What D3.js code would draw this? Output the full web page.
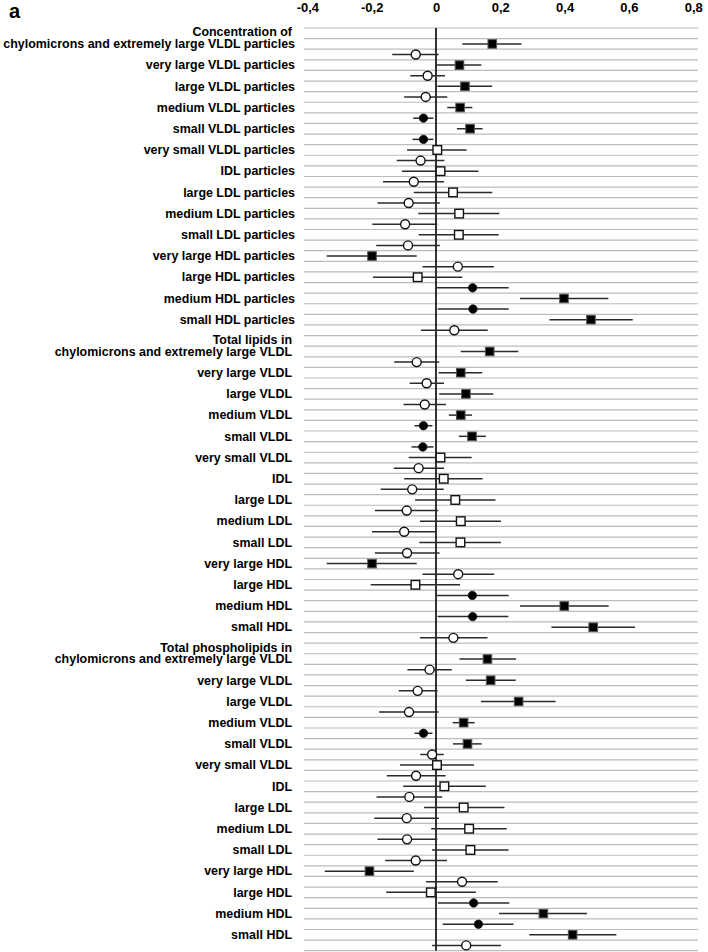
<!DOCTYPE html>
<html>
<head>
<meta charset="utf-8">
<script src="https://cdn.jsdelivr.net/npm/d3@7"></script>
<style>
  html, body { margin: 0; padding: 0; background: #fff; }
  svg { display: block; }
  .lbl { font-family: "Liberation Sans", Arial, sans-serif; font-weight: bold; fill: #000; }
  .tick text { font-family: "Liberation Sans", Arial, sans-serif; font-weight: bold; font-size: 13px; fill: #000; }
</style>
</head>
<body>
<svg id="chart" width="708" height="952"></svg>
<script>
// ---------- DATA ----------
const groupHeaders = ["Concentration of", "Total lipids in", "Total phospholipids in"];

const labelsGroup1 = ["chylomicrons and extremely large VLDL particles", "very large VLDL particles", "large VLDL particles",
  "medium VLDL particles", "small VLDL particles", "very small VLDL particles", "IDL particles", "large LDL particles",
  "medium LDL particles", "small LDL particles", "very large HDL particles", "large HDL particles",
  "medium HDL particles", "small HDL particles"];
const labelsGroup2 = ["chylomicrons and extremely large VLDL", "very large VLDL", "large VLDL", "medium VLDL", "small VLDL",
  "very small VLDL", "IDL", "large LDL", "medium LDL", "small LDL", "very large HDL", "large HDL", "medium HDL", "small HDL"];
const labelsGroup3 = labelsGroup2.slice();

const tickValues = [-0.4, -0.2, 0, 0.2, 0.4, 0.6, 0.8];

// square series (estimate, lower, upper, significant -> filled)
const squareEst = [
  0.175, 0.073, 0.090, 0.075, 0.106, 0.004, 0.014, 0.053, 0.072, 0.071, -0.199, -0.057, 0.398, 0.482,
  0.167, 0.077, 0.093, 0.077, 0.112, 0.014, 0.024, 0.060, 0.077, 0.076, -0.199, -0.064, 0.399, 0.489,
  0.160, 0.170, 0.257, 0.086, 0.098, 0.003, 0.026, 0.086, 0.103, 0.107, -0.207, -0.016, 0.334, 0.425];
const squareLo = [
  0.082, 0.002, 0.004, 0.035, 0.065, -0.090, -0.106, -0.069, -0.055, -0.054, -0.340, -0.196, 0.261, 0.353,
  0.077, 0.008, 0.010, 0.040, 0.071, -0.085, -0.099, -0.065, -0.050, -0.052, -0.340, -0.203, 0.261, 0.359,
  0.073, 0.093, 0.140, 0.052, 0.053, -0.112, -0.102, -0.037, -0.015, -0.012, -0.346, -0.155, 0.196, 0.290];
const squareHi = [
  0.266, 0.141, 0.175, 0.113, 0.145, 0.095, 0.132, 0.175, 0.197, 0.195, -0.060, 0.082, 0.536, 0.612,
  0.256, 0.144, 0.178, 0.112, 0.155, 0.111, 0.145, 0.185, 0.202, 0.202, -0.060, 0.075, 0.537, 0.619,
  0.249, 0.248, 0.372, 0.120, 0.142, 0.118, 0.155, 0.213, 0.220, 0.226, -0.069, 0.124, 0.470, 0.561];
const squareFilled = [
  1,1,1,1,1,0,0,0,0,0,1,0,1,1,
  1,1,1,1,1,0,0,0,0,0,1,0,1,1,
  1,1,1,1,1,0,0,0,0,0,1,0,1,1];

// circle series
const circleEst = [
  -0.063, -0.026, -0.032, -0.039, -0.039, -0.048, -0.069, -0.085, -0.096, -0.087, 0.068, 0.114, 0.115, 0.057,
  -0.060, -0.029, -0.035, -0.039, -0.041, -0.054, -0.074, -0.091, -0.099, -0.090, 0.069, 0.113, 0.114, 0.054,
  -0.020, -0.057, -0.084, -0.039, -0.012, -0.062, -0.083, -0.091, -0.090, -0.063, 0.081, 0.117, 0.132, 0.094];
const circleLo = [
  -0.136, -0.080, -0.099, -0.071, -0.073, -0.122, -0.165, -0.182, -0.198, -0.186, -0.042, 0.002, 0.005, -0.047,
  -0.130, -0.082, -0.101, -0.067, -0.076, -0.131, -0.172, -0.190, -0.199, -0.190, -0.042, 0.002, 0.005, -0.050,
  -0.089, -0.116, -0.177, -0.067, -0.049, -0.153, -0.185, -0.192, -0.182, -0.158, -0.031, 0.006, 0.021, -0.012];
const circleHi = [
  0.008, 0.028, 0.035, -0.008, -0.008, 0.026, 0.025, 0.012, 0.004, 0.012, 0.180, 0.226, 0.226, 0.161,
  0.010, 0.025, 0.031, -0.011, -0.008, 0.025, 0.024, 0.007, 0.000, 0.011, 0.181, 0.226, 0.225, 0.160,
  0.049, 0.005, 0.008, -0.011, 0.024, 0.030, 0.019, 0.009, 0.004, 0.034, 0.192, 0.228, 0.241, 0.202];
const circleFilled = [
  0,0,0,1,1,0,0,0,0,0,0,1,1,0,
  0,0,0,1,1,0,0,0,0,0,0,1,1,0,
  0,0,0,1,0,0,0,0,0,0,0,1,1,0];

// ---------- LAYOUT ----------
const svg = d3.select("#chart");
const perGroup = labelsGroup1.length;          // 14
const slotsPerGroup = 1 + 2 * perGroup;        // header + 2 per variable
const nSlots = slotsPerGroup * groupHeaders.length;

const x = d3.scaleLinear().domain([-0.4, 0.8]).range([307.4, 693.2]);
const y = d3.scaleBand().domain(d3.range(nSlots)).range([28, 950.7]).paddingInner(0).paddingOuter(0);
const bw = y.bandwidth();
const yc = i => y(i) + bw / 2;

const allLabels = [labelsGroup1, labelsGroup2, labelsGroup3];
const rows = [];
allLabels.forEach((labs, g) => {
  labs.forEach((lab, k) => {
    const idx = g * perGroup + k;
    rows.push({
      g, k, label: lab,
      sqSlot: g * slotsPerGroup + 1 + 2 * k,
      ciSlot: g * slotsPerGroup + 2 + 2 * k,
      sq: squareEst[idx], sqLo: squareLo[idx], sqHi: squareHi[idx], sqF: squareFilled[idx],
      ci: circleEst[idx], ciLo: circleLo[idx], ciHi: circleHi[idx], ciF: circleFilled[idx]
    });
  });
});

// gridlines
svg.append("g").selectAll("line")
  .data(d3.range(nSlots + 1))
  .join("line")
  .attr("x1", 304).attr("x2", 698)
  .attr("y1", i => 28 + i * bw).attr("y2", i => 28 + i * bw)
  .attr("stroke", "#bdbdbd").attr("stroke-width", 1.2);

// zero line
svg.append("line")
  .attr("x1", x(0)).attr("x2", x(0))
  .attr("y1", 28).attr("y2", 950.7)
  .attr("stroke", "#000").attr("stroke-width", 1.6);

// top axis
const fmt = v => v === 0 ? "0" : d3.format(".1f")(v).replace(".", ",").replace("\u2212", "-");
const ax = svg.append("g").attr("transform", "translate(0,11.5)")
  .call(d3.axisTop(x).tickValues(tickValues).tickSize(0).tickPadding(0).tickFormat(fmt));
ax.select(".domain").remove();
ax.selectAll(".tick text").attr("dy", 0);

// panel letter
svg.append("text").attr("x", 9).attr("y", 18)
  .attr("font-family", "Liberation Sans, Arial, sans-serif").attr("font-weight", "bold")
  .attr("font-size", 20).text("a");

// labels (horizontally condensed bold text)
const labG = svg.append("g");
const fs = 12.5;
const probe = labG.append("text").attr("class", "lbl").attr("font-size", fs).text(labelsGroup1[0]);
const w = probe.node().getComputedTextLength();
probe.remove();
const sx = w > 0 ? 292 / w : 1;

labG.selectAll("text.row")
  .data(rows)
  .join("text")
  .attr("class", "lbl row")
  .attr("font-size", fs)
  .attr("transform", d => `translate(${d.g === 0 ? 295 : 292},${yc(d.sqSlot)}) scale(${sx},1)`)
  .attr("dy", "0.34em")
  .attr("text-anchor", "end")
  .text(d => d.label);

labG.selectAll("text.head")
  .data(groupHeaders)
  .join("text")
  .attr("class", "lbl head")
  .attr("font-size", fs)
  .attr("transform", (d, g) => `translate(292,${yc(g * slotsPerGroup)}) scale(${sx},1)`)
  .attr("dy", "0.25em")
  .attr("text-anchor", "end")
  .text(d => d);

// error bars
const marks = svg.append("g");
marks.selectAll("line.sqci")
  .data(rows).join("line").attr("class", "sqci")
  .attr("x1", d => x(d.sqLo)).attr("x2", d => x(d.sqHi))
  .attr("y1", d => yc(d.sqSlot)).attr("y2", d => yc(d.sqSlot))
  .attr("stroke", "#2b2b2b").attr("stroke-width", 1.5);
marks.selectAll("line.cici")
  .data(rows).join("line").attr("class", "cici")
  .attr("x1", d => x(d.ciLo)).attr("x2", d => x(d.ciHi))
  .attr("y1", d => yc(d.ciSlot)).attr("y2", d => yc(d.ciSlot))
  .attr("stroke", "#2b2b2b").attr("stroke-width", 1.5);

// squares
const sqSize = 8.6;
marks.selectAll("rect.sq")
  .data(rows).join("rect").attr("class", "sq")
  .attr("x", d => x(d.sq) - sqSize / 2).attr("y", d => yc(d.sqSlot) - sqSize / 2)
  .attr("width", sqSize).attr("height", sqSize)
  .attr("fill", d => d.sqF ? "#000" : "#fff")
  .attr("stroke", d => d.sqF ? "#555" : "#111")
  .attr("stroke-width", d => d.sqF ? 1 : 1.4);

// circles
marks.selectAll("circle.ci")
  .data(rows).join("circle").attr("class", "ci")
  .attr("cx", d => x(d.ci)).attr("cy", d => yc(d.ciSlot))
  .attr("r", d => d.ciF ? 4.2 : 4.5)
  .attr("fill", d => d.ciF ? "#000" : "#fff")
  .attr("stroke", "#111").attr("stroke-width", d => d.ciF ? 0.8 : 1.4);
</script>
</body>
</html>
